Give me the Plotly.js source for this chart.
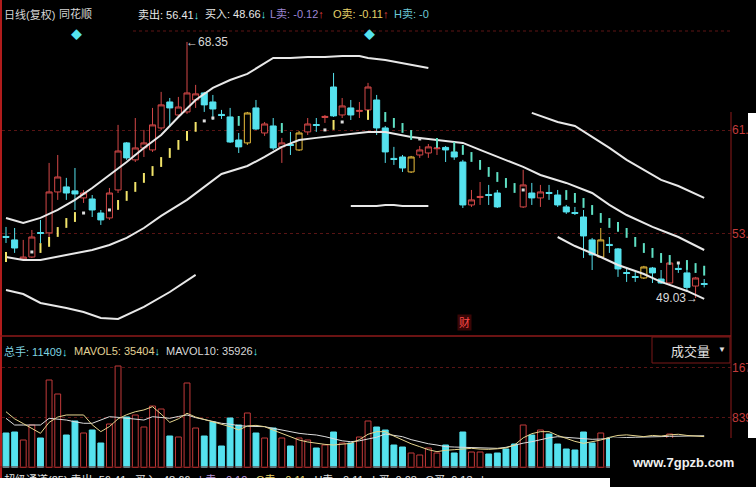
<!DOCTYPE html>
<html><head><meta charset="utf-8">
<script src="https://cdn.plot.ly/plotly-3.0.1.min.js"></script>
<style>
html,body{margin:0;padding:0;background:#fff;width:756px;height:487px;overflow:hidden}
#chart{position:absolute;left:0;top:0;width:756px;height:478px}
#wmfoot{position:absolute;left:610px;top:478px;width:146px;height:9px;background:#000}
</style></head><body>
<div id="chart"></div><div id="wmfoot"></div>
<script>
// ---------- DATA ----------
const openP  = [53.67,53.41,51.97,52.12,53.97,53.94,57.03,57.41,57.11,56.58,56.50,55.44,55.07,57.18,60.73,59.45,60.35,60.20,61.86,63.82,62.84,63.07,63.97,64.50,63.82,62.88,62.69,60.95,60.73,63.37,61.48,62.01,60.43,60.61,60.20,61.56,62.12,62.65,64.95,62.84,63.37,63.11,63.22,63.97,61.86,59.56,59.67,58.54,59.82,59.97,60.29,60.39,60.05,59.29,56.05,56.61,56.84,56.95,null,null,55.90,56.95,56.58,56.99,56.80,55.90,55.48,55.14,53.41,52.12,53.07,52.73,50.95,50.65,50.54,51.29,50.46,50.16,51.26,50.92,49.93,50.12];
const highP  = [54.39,54.31,53.41,54.16,54.92,59.22,59.82,58.09,58.84,57.18,56.80,55.67,57.33,62.09,60.80,62.61,61.71,63.37,64.58,64.12,64.20,68.35,65.11,64.58,64.35,63.22,63.37,61.48,63.07,63.97,62.31,62.61,61.11,61.56,61.63,62.61,62.61,62.84,66.01,64.12,63.97,63.82,65.26,64.35,62.01,60.43,59.82,59.75,60.50,60.65,60.39,60.50,60.35,59.45,57.18,57.78,57.56,57.18,null,null,58.70,57.71,57.56,57.56,57.18,56.05,55.90,55.67,53.56,54.31,53.63,52.80,51.37,50.99,51.45,51.37,51.14,51.90,51.67,51.67,50.62,50.46];
const lowP   = [53.18,52.43,51.90,52.05,53.18,53.18,56.43,56.43,55.67,56.20,55.14,54.54,54.92,56.95,59.45,59.29,59.67,60.05,61.71,61.94,62.69,62.92,63.37,63.07,62.46,62.54,60.73,59.97,60.58,61.71,61.26,60.20,59.22,59.82,60.12,61.33,61.56,62.24,62.69,62.61,62.46,62.61,63.07,61.33,59.22,59.07,58.54,58.46,59.60,59.60,59.82,59.29,59.45,55.82,55.90,56.05,56.05,55.82,null,null,55.82,56.05,55.90,56.43,55.90,55.37,55.29,52.05,51.14,52.05,52.43,50.62,50.24,50.24,50.46,50.16,50.09,50.09,50.92,49.60,49.03,49.83];
const closeP = [53.60,52.80,52.12,53.63,53.90,57.03,58.16,56.95,56.88,56.95,55.67,54.92,56.95,60.12,59.60,60.35,60.73,62.09,63.60,63.37,63.44,64.50,64.43,63.60,63.29,62.80,60.80,60.43,62.99,61.78,62.16,60.35,60.73,60.54,61.48,62.16,62.05,62.73,62.77,63.52,62.84,63.18,64.95,61.86,60.05,59.48,58.84,59.67,60.20,60.43,60.35,60.20,59.67,56.05,56.43,56.69,56.77,55.90,null,null,57.56,56.58,57.03,56.92,56.05,55.52,55.41,53.71,52.28,53.41,52.99,51.22,50.88,50.58,51.37,50.92,50.16,51.67,51.19,49.83,50.54,50.05];
const markedDays = [28,34,47,69,74];          // yellow-outlined candles

const volume = [5813,5982,4634,7161,4971,14744,12385,5476,7835,5813,6319,4128,7330,17103,8509,8846,6824,10363,9857,5308,5139,14238,6656,5308,7667,3623,8341,7161,9183,5813,4971,6656,4971,3623,4971,4634,3286,3791,5982,4128,4128,5139,7835,6824,6319,3791,3454,2443,2106,3286,2443,3791,2443,5982,2612,2612,2275,2443,3117,3960,7161,5476,6319,5645,3960,3117,2949,5982,4128,5813,4971,4500,3800,3500,3900,4200,3300,5645,4000,4600,4300,3600];
const mavol5  = [9400,8200,7400,6600,5760,7600,8500,8850,8850,8850,7200,6040,6900,8200,8900,9400,9700,10250,9000,7600,8200,9130,8500,8100,7720,7300,6880,6320,7000,7100,6880,6300,5760,5200,4630,4300,4070,3900,3790,3950,4070,4700,5600,6040,6040,5300,4630,4000,3510,3000,2670,2900,3000,3150,3230,3100,3060,3150,3300,3790,5000,5700,6040,6040,5400,4910,4400,4070,4300,4630,5080,5400,5500,5300,5200,5400,5300,5500,5600,5400,5300,5200];
const mavol10 = [8290,7160,7160,7160,7160,8290,8200,8000,7700,7450,7450,8000,8560,8450,8290,8150,8000,8560,8450,8290,8600,8850,8400,8120,7800,7450,7300,7050,6950,6900,6880,6600,6320,6000,5760,5600,5480,5200,4910,4500,4350,4500,4800,5100,5640,5400,5190,4700,4350,4000,3790,3510,3450,3400,3300,3230,3230,3230,3400,3790,4100,4350,4700,5000,5190,5050,4910,4800,4750,4800,4910,5000,5050,5100,5100,5200,5200,5250,5300,5300,5350,5350];

// channel lines (day index, price)
const upperLIdx = [0,2,4,6,8,10,12,14,16,18,20,22,24,26,28,30,31,33,35,37,39,41,42,44,46,48,49];
const upperLVal = [55.07,54.69,55.07,55.67,56.43,57.33,58.31,59.29,60.35,61.33,62.69,63.97,64.88,65.48,65.94,66.77,67.14,67.14,67.22,67.22,67.29,67.29,67.14,66.99,66.77,66.54,66.39];
const upperRIdx = [61,64,66,68,70,72,74,76,78,81];
const upperRVal = [63.00,62.31,62.01,61.18,60.35,59.45,58.69,57.94,57.48,56.58];
const midIdx = [0,2,4,7,10,12,14,16,18,21,23,25,28,30,32,34,36,38,42,44,47,50,53,55,58,60,62,65,68,70,72,75,78,81];
const midVal = [52.12,51.90,51.90,52.28,52.65,53.03,53.56,54.31,55.22,56.43,57.41,58.39,58.99,59.67,60.43,60.95,61.11,61.26,61.56,61.56,61.18,60.95,60.73,60.20,59.45,58.92,58.31,57.71,56.95,56.05,55.29,54.39,53.63,52.65];
const lowerLIdx = [0,2,4,7,9,11,13,16,19,22];
const lowerLVal = [49.63,49.33,48.65,48.28,47.97,47.52,47.45,48.35,49.48,50.77];
const lowerMIdx = [40,43,44,45,46,49];
const lowerMVal = [55.97,55.97,56.05,56.05,55.97,55.97];
const lowerRIdx = [64,66,69,71,74,76,79,81];
const lowerRVal = [53.63,52.95,52.12,51.52,50.84,50.24,49.56,48.96];

// stop dots
const sarUpIdx = [0,4,5,6,7,8,13,14,15,16,17,18,19,20,21,22,38,42];
const sarUpVal = [52.12,52.80,53.26,54.01,54.69,55.14,56.05,56.73,57.41,58.09,58.61,59.29,59.97,60.58,61.26,61.94,62.09,62.84];
const sarMidIdx = [3,9,12,23,24,37,39,48,60,78];
const sarMidVal = [52.50,55.44,55.67,62.39,62.61,61.71,62.31,61.03,57.18,51.67];
const sarDnIdx = [27,32,44,45,46,47,50,52,53,54,55,56,57,58,59,65,66,67,68,69,70,71,72,73,74,75,76,77,79,80,81];
const sarDnVal = [62.39,61.86,62.69,62.24,61.86,61.33,60.73,60.43,60.20,59.67,59.07,58.54,58.16,57.71,57.33,56.80,56.58,56.20,55.67,55.07,54.69,54.39,53.94,53.26,52.80,52.43,52.05,51.90,51.52,51.29,51.09];

const priceTickVals = [61.7, 53.9];
const priceTickText = ['61.7', '53.9'];
const volTickVals = [16776, 8388];
const volTickText = ['167', '839'];
const highLabel = 68.35, highDay = 21;
const lowLabel = 49.03, lowDay = 80;

// ---------- BUILD ----------
const W = 756, H = 478, ML = 2, MR = 25, PW = W - ML - MR;
const px = v => (v - ML) / PW;
const py = v => 1 - v / H;
const NF = "'Liberation Sans Narrow','Liberation Sans','Noto Sans CJK SC',sans-serif";
const RED = '#d44848', CY = '#55e2ee', YEL = '#e9bd3c';
const sp = (c, t) => '<span style="color:' + c + '">' + t + '</span>';
const DN = sp(CY, '↓'), UPR = sp('#e04040', '↑');

const days = openP.map((_, i) => i);
const isMarked = i => markedDays.includes(i);
function candleTrace(filter, incLine, incFill) {
  const idx = days.filter(i => openP[i] !== null && filter(i));
  return {
    type: 'candlestick', x: idx,
    open: idx.map(i => openP[i]), high: idx.map(i => highP[i]),
    low: idx.map(i => lowP[i]), close: idx.map(i => closeP[i]),
    increasing: {line: {color: incLine, width: 1}, fillcolor: incFill},
    decreasing: {line: {color: CY, width: 1}, fillcolor: CY},
    whiskerwidth: 0, hoverinfo: 'skip', xaxis: 'x', yaxis: 'y'
  };
}
const lineTr = (xi, yv) => ({type: 'scatter', mode: 'lines', x: xi, y: yv,
  line: {color: '#e8e8e8', width: 2}, hoverinfo: 'skip', xaxis: 'x', yaxis: 'y'});
const dotTr = (xi, yv, col, sym, sz, lw) => ({type: 'scatter', mode: 'markers', x: xi, y: yv,
  marker: {symbol: sym, size: sz, color: col, line: {color: col, width: lw}}, hoverinfo: 'skip', xaxis: 'x', yaxis: 'y'});

const up = days.map(i => openP[i] !== null && closeP[i] >= openP[i]);
const traces = [
  {type: 'bar', x: days, y: volume, width: 0.68, xaxis: 'x', yaxis: 'y2', hoverinfo: 'skip',
   marker: {color: up.map(u => u ? '#000' : CY), line: {color: up.map(u => u ? '#c23a3a' : CY), width: 1}}},
  {type: 'scatter', mode: 'lines', x: days, y: mavol10, line: {color: '#dcdcdc', width: 1}, xaxis: 'x', yaxis: 'y2', hoverinfo: 'skip'},
  {type: 'scatter', mode: 'lines', x: days, y: mavol5, line: {color: '#e6d58e', width: 1}, xaxis: 'x', yaxis: 'y2', hoverinfo: 'skip'},
  candleTrace(i => !isMarked(i), RED, '#000'),
  candleTrace(i => isMarked(i), YEL, '#000'),
  lineTr(upperLIdx, upperLVal), lineTr(upperRIdx, upperRVal), lineTr(midIdx, midVal),
  lineTr(lowerLIdx, lowerLVal), lineTr(lowerMIdx, lowerMVal), lineTr(lowerRIdx, lowerRVal),
  dotTr(sarUpIdx, sarUpVal, '#f2e46a', 'line-ns', 7, 2),
  dotTr(sarDnIdx, sarDnVal, '#5fe0c4', 'line-ns', 7, 2),
  dotTr(sarMidIdx, sarMidVal, '#dddddd', 'square', 3, 0)
];

function T(text, x, y, color, size, anchor) {
  return {text: text, xref: 'paper', yref: 'paper', x: px(x), y: py(y), xanchor: anchor || 'left', yanchor: 'middle',
    showarrow: false, font: {family: NF, size: size || 11, color: color}};
}
const annotations = [
  T('日线(复权)', 2, 14, '#d6d6d6'), T('同花顺', 57, 14, '#d6d6d6'),
  T('卖出: 56.41' + DN, 136, 14, '#e8e8e8'),
  T('买入: 48.66' + DN, 203, 14, '#e8e8e8'),
  T('L卖: -0.12' + UPR, 268, 14, '#9c86d4'),
  T('O卖: -0.11' + UPR, 331, 14, '#e6d26a'),
  T('H卖: -0', 392, 14, '#6ccad8'),
  T('◆', 76, 35, CY, 11, 'center'), T('◆', 369, 35, CY, 11, 'center'),
  T('总手: 11409' + DN, 2, 351, '#7fd4e0', 11),
  T('MAVOL5: 35404' + DN, 72, 351, '#e2d294', 11),
  T('MAVOL10: 35926' + DN, 164, 351, '#d8d8d8', 11),
  T('成交量', 690, 351, '#e0e0e0', 13, 'center'), T('▼', 722, 349, '#e0e0e0', 8, 'center'),
  Object.assign(T('财', 464, 322, '#ff4a4a', 11, 'center'), {bgcolor: '#3a0606'}),
  T('超级通道(25) 卖出: 56.41' + DN + ' 买入: 48.66' + DN + ' ' + sp('#b894d8', 'L卖: -0.12') + UPR + ' ' +
    sp('#e6d26a', 'O卖: -0.11') + UPR + ' H卖: -0.11' + UPR + ' L买: 0.08' + UPR + ' O买: 0.13' + UPR + ' |',
    2, 479, '#e0e0e0', 11),
  {text: '←' + highLabel.toFixed(2), xref: 'x', yref: 'y', x: highDay, y: highLabel, xanchor: 'left', yanchor: 'middle',
   xshift: -3, showarrow: false, font: {family: NF, size: 12, color: '#d8d8d8'}},
  {text: lowLabel.toFixed(2) + '→', xref: 'x', yref: 'y', x: lowDay, y: lowLabel, xanchor: 'right', yanchor: 'middle',
   xshift: 4, showarrow: false, font: {family: NF, size: 12, color: '#d8d8d8'}},
  {text: '<b>www.7gpzb.com</b>', xref: 'paper', yref: 'paper', x: px(683), y: py(462), xanchor: 'center', yanchor: 'middle',
   showarrow: false, font: {family: "'Liberation Sans',Arial,sans-serif", size: 13, color: '#f0f0f0'}}
];

const R = (x0, y0, x1, y1, o) => Object.assign({type: 'rect', xref: 'paper', yref: 'paper',
  x0: px(x0), x1: px(x1), y0: py(y1), y1: py(y0)}, o);
const L = (x0, y0, x1, y1, col, w, dash) => ({type: 'line', xref: 'paper', yref: 'paper',
  x0: px(x0), x1: px(x1), y0: py(y0), y1: py(y1), line: {color: col, width: w, dash: dash || 'solid'}});
const shapes = [
  L(1, 0, 1, 478, '#b01c1c', 2),
  L(731, 112, 731, 467, '#8e1a1a', 1),
  L(0, 336, 731, 336, '#8e1a1a', 1.5),
  L(0, 467, 731, 467, '#6e1414', 1),
  L(133, 31, 731, 31, '#5e1414', 1, 'dot'),
  R(652, 337, 730, 363, {line: {color: '#7a1818', width: 1}, fillcolor: 'rgba(0,0,0,0)'}),
  R(748, 113, 760, 438, {line: {width: 0}, fillcolor: '#ffffff', layer: 'above'}),
  R(610, 438, 760, 480, {line: {width: 0}, fillcolor: '#000000', layer: 'above'})
];

const tickfont = {family: NF, size: 12, color: '#c43c3c'};
const layout = {
  width: W, height: H, margin: {l: ML, r: MR, t: 0, b: 0, pad: 0},
  paper_bgcolor: '#000', plot_bgcolor: '#000', showlegend: false, hovermode: false,
  bargap: 0.3, boxmode: 'overlay', boxgap: 0.3, boxgroupgap: 0,
  xaxis: {range: [-0.464, 84.11], showgrid: false, zeroline: false, showticklabels: false, ticks: '',
          showline: false, fixedrange: true, rangeslider: {visible: false}},
  yaxis: {domain: [py(336), py(32)], range: [46.16, 69.10], side: 'right', tickvals: priceTickVals, ticktext: priceTickText,
          showgrid: true, gridcolor: '#581414', griddash: 'dot', gridwidth: 1, zeroline: false, ticks: '', showline: false,
          tickfont: tickfont, fixedrange: true},
  yaxis2: {domain: [0, py(336)], range: [-1769, 22158], side: 'right', anchor: 'x', tickvals: volTickVals, ticktext: volTickText,
           showgrid: true, gridcolor: '#581414', griddash: 'dot', gridwidth: 1, zeroline: false, ticks: '', showline: false,
           tickfont: tickfont, fixedrange: true},
  annotations: annotations, shapes: shapes
};
Plotly.newPlot('chart', traces, layout, {displayModeBar: false, staticPlot: true});
</script></body></html>
